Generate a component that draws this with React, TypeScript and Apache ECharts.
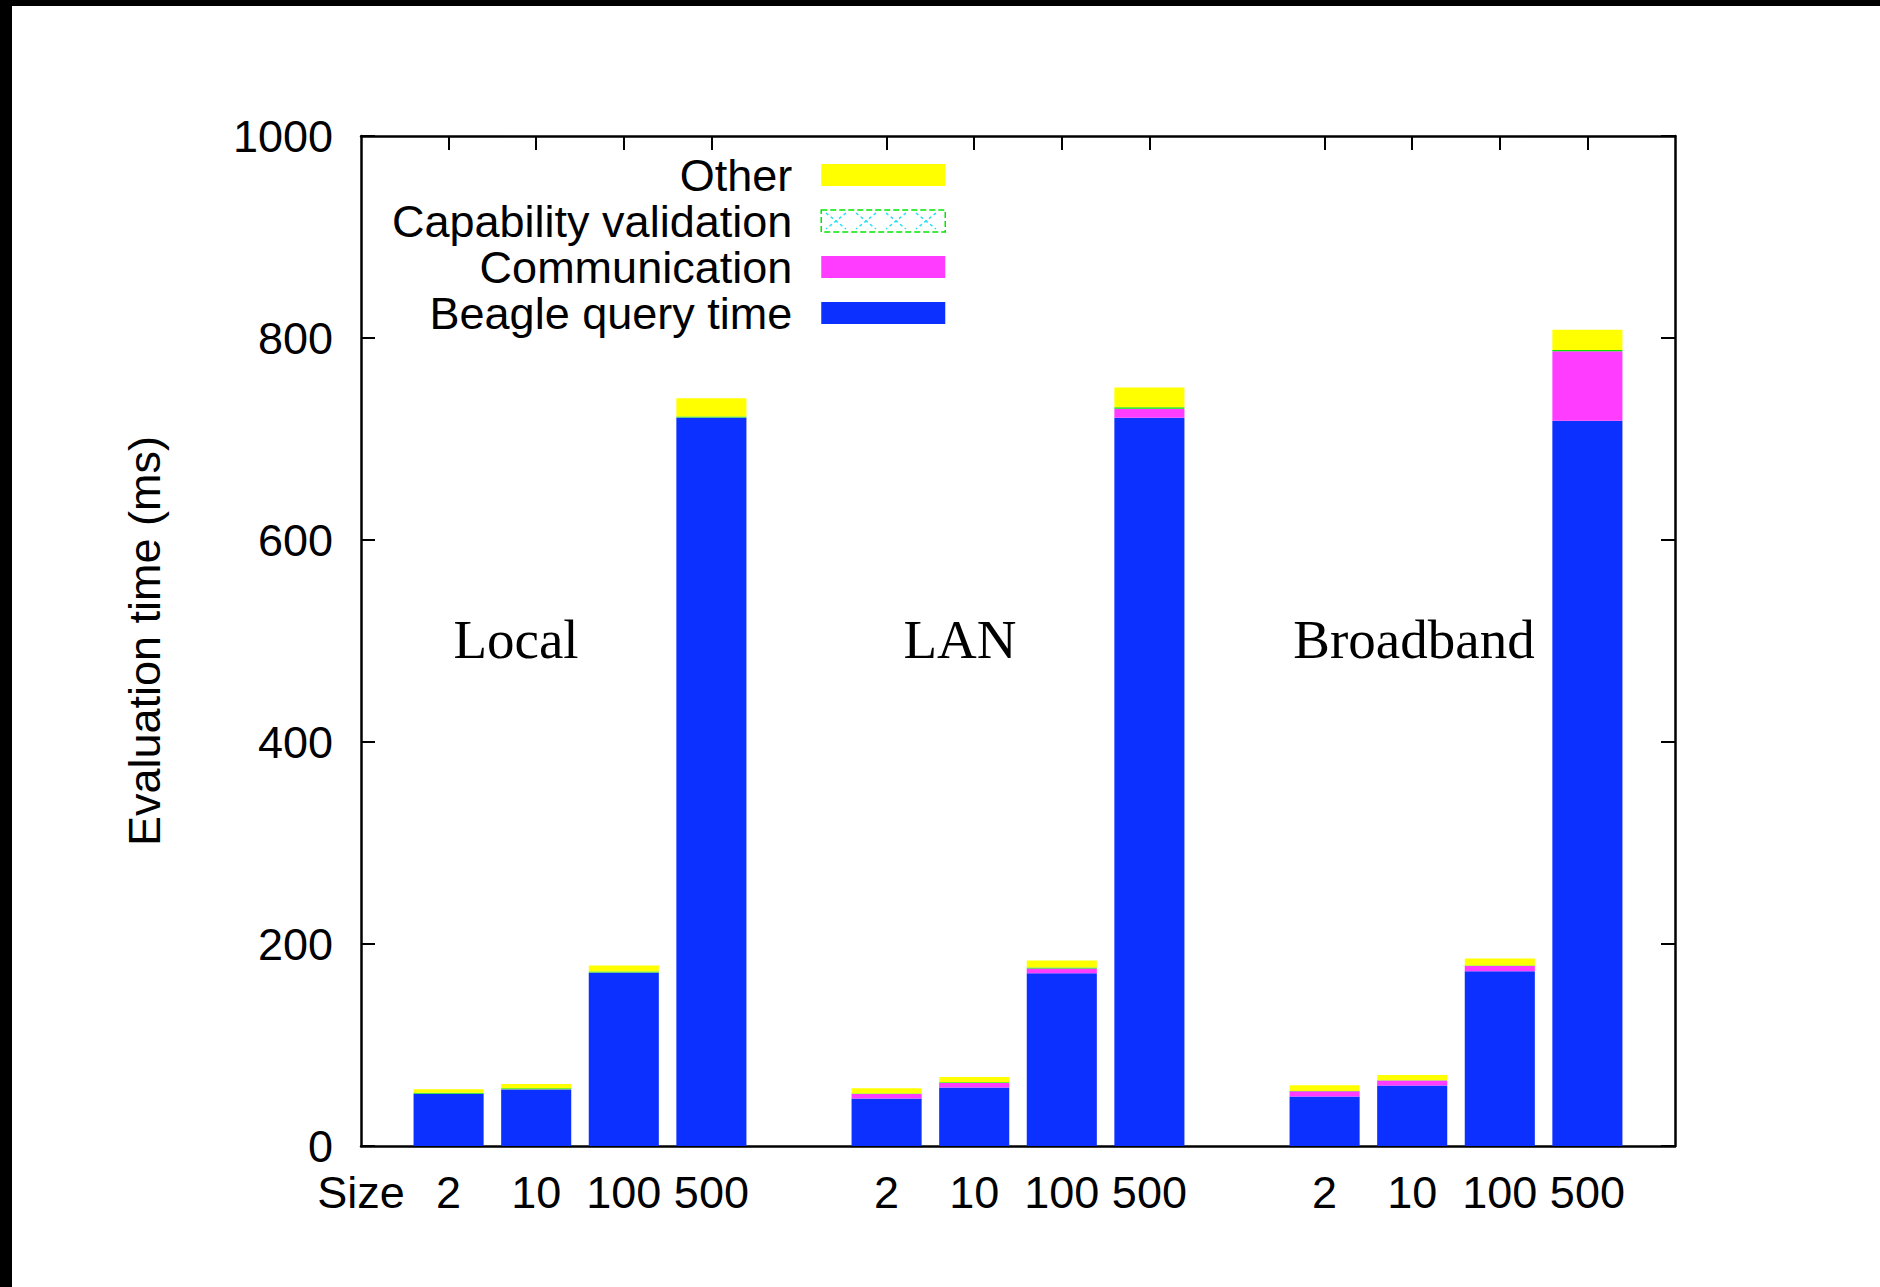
import React, { useEffect, useRef } from "react";
import * as echarts from "echarts";

const slotIds = ["s0","s1","s2","s3","s4","s5","s6","s7","s8","s9","s10","s11","s12","s13","s14","s15"];
const slotLabels = ["Size","2","10","100","500","","2","10","100","500","","2","10","100","500",""];
const beagle = [null, 51.5, 56, 171.5, 721, null, 47, 58, 171, 721, null, 49, 60, 173, 718, null];
const communication = [null, 0.3, 0.3, 0.3, 0.3, null, 4.5, 4.5, 4.7, 9, null, 5.2, 4.9, 5.3, 69, null];
const capability = [null, 1, 1, 1, 1, null, 0.6, 0.7, 1, 1.5, null, 0.3, 0.3, 0.3, 1.2, null];
const other = [null, 3.5, 4, 6, 18, null, 5, 5, 7, 19.5, null, 5.7, 5, 7, 20, null];
const groupNames = ["Local", "LAN", "Broadband"];
const yTicks = { min: 0, max: 1000, interval: 200 };

const SANS = "Liberation Sans, Arial, Helvetica, sans-serif";
const SERIF = "Liberation Serif, Times New Roman, serif";

export default function App() {
  const ref = useRef<HTMLDivElement>(null);
  useEffect(() => {
    if (!ref.current) return;
    const chart = echarts.init(ref.current, null, { renderer: "svg" });
    const labelOf = (v: string) => slotLabels[slotIds.indexOf(v)] ?? "";
    const tickShown = (i: number) => slotLabels[i] !== "" && i !== 0;
    const axisLine = { show: true, onZero: false, lineStyle: { color: "#000", width: 2.5 } };
    const groupPos = [516, 960, 1414];
    const option: any = {
      animation: false,
      backgroundColor: "#fff",
      grid: { left: 361, top: 136, width: 1314, height: 1010, containLabel: false },
      xAxis: [
        {
          type: "category",
          data: slotIds,
          boundaryGap: false,
          position: "bottom",
          axisLine,
          axisTick: { show: false },
          axisLabel: {
            interval: 0,
            formatter: labelOf,
            fontSize: 45,
            fontFamily: SANS,
            color: "#000",
            margin: 24,
          },
          splitLine: { show: false },
        },
        {
          type: "category",
          data: slotIds,
          boundaryGap: false,
          position: "top",
          axisLine,
          axisTick: {
            show: true,
            inside: true,
            length: 14,
            interval: (i: number) => tickShown(i),
            lineStyle: { color: "#000", width: 2 },
          },
          axisLabel: { show: false },
          splitLine: { show: false },
        },
      ],
      yAxis: [
        {
          type: "value",
          min: yTicks.min,
          max: yTicks.max,
          interval: yTicks.interval,
          position: "left",
          name: "Evaluation time (ms)",
          nameLocation: "middle",
          nameRotate: 90,
          nameGap: 194,
          nameTextStyle: { fontSize: 45, fontFamily: SANS, color: "#000" },
          axisLine,
          axisTick: { show: true, inside: true, length: 14, lineStyle: { color: "#000", width: 2 } },
          axisLabel: { fontSize: 45, fontFamily: SANS, color: "#000", margin: 28, formatter: (v: number) => String(v) },
          splitLine: { show: false },
        },
        {
          type: "value",
          min: yTicks.min,
          max: yTicks.max,
          interval: yTicks.interval,
          position: "right",
          axisLine,
          axisTick: { show: true, inside: true, length: 14, lineStyle: { color: "#000", width: 2 } },
          axisLabel: { show: false },
          splitLine: { show: false },
        },
      ],
      legend: {
        orient: "vertical",
        align: "right",
        right: 934,
        top: 152,
        padding: 0,
        itemGap: 0,
        itemWidth: 124,
        itemHeight: 22,
        selectedMode: false,
        textStyle: { fontSize: 45, fontFamily: SANS, color: "#000", lineHeight: 46, padding: [0, 24, 0, 0] },
        data: [
          { name: "Other", icon: "rect" },
          {
            name: "Capability validation",
            icon: "rect",
            itemStyle: { color: "#fff", borderColor: "#00e600", borderWidth: 1.5, borderType: "dashed" },
          },
          { name: "Communication", icon: "rect" },
          { name: "Beagle query time", icon: "rect" },
        ],
      },
      series: [
        { name: "Beagle query time", type: "bar", stack: "t", data: beagle, barWidth: "80%", itemStyle: { color: "#0c30ff" } },
        { name: "Communication", type: "bar", stack: "t", data: communication, barWidth: "80%", itemStyle: { color: "#ff3cff" } },
        { name: "Capability validation", type: "bar", stack: "t", data: capability, barWidth: "80%", itemStyle: { color: "#00e600" } },
        { name: "Other", type: "bar", stack: "t", data: other, barWidth: "80%", itemStyle: { color: "#ffff00" } },
      ],
      graphic: [
        { type: "rect", left: 0, top: 0, z: 100, shape: { width: 1880, height: 6 }, style: { fill: "#000" } },
        { type: "rect", left: 0, top: 0, z: 100, shape: { width: 12, height: 1287 }, style: { fill: "#000" } },
        ...groupNames.map((n, i) => ({
          type: "text",
          x: groupPos[i],
          y: 639,
          z: 100,
          style: { text: n, fontSize: 55, fontFamily: SERIF, fill: "#000", align: "center", verticalAlign: "middle" },
        })),
        ...[0, 1, 2, 3].map((k) => ({
          type: "polyline",
          z: 100,
          shape: { points: [[826 + k * 30, 213], [846 + k * 30, 229]] },
          style: { stroke: "#22e0f0", lineWidth: 1.5, lineDash: [3, 3], fill: null },
        })),
        ...[0, 1, 2, 3].map((k) => ({
          type: "polyline",
          z: 100,
          shape: { points: [[846 + k * 30, 213], [826 + k * 30, 229]] },
          style: { stroke: "#22e0f0", lineWidth: 1.5, lineDash: [3, 3], fill: null },
        })),
      ],
    };
    chart.setOption(option);
    return () => chart.dispose();
  }, []);
  return (
    <div
      ref={ref}
      style={{ position: "fixed", left: 0, top: 0, width: 1880, height: 1287, background: "#fff" }}
    />
  );
}
